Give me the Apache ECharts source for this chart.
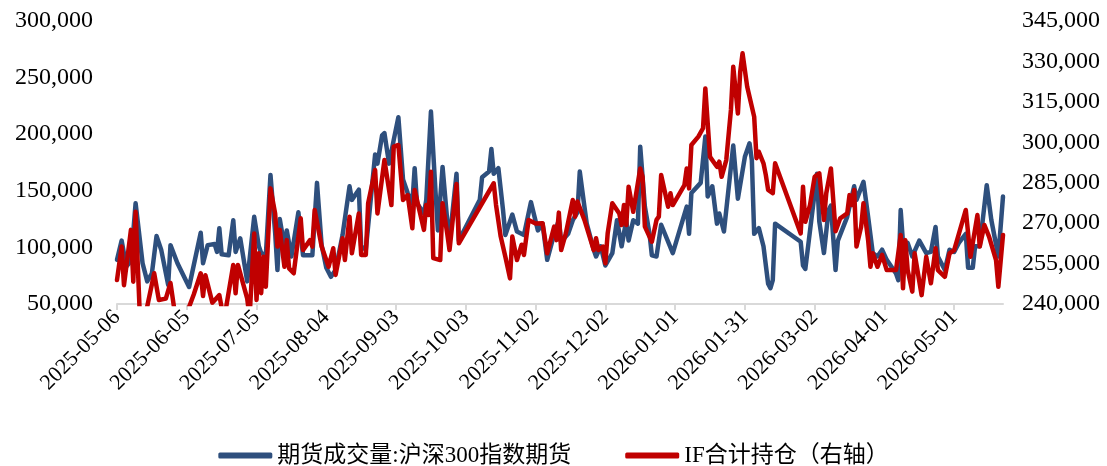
<!DOCTYPE html>
<html><head><meta charset="utf-8">
<script src="https://cdn.jsdelivr.net/npm/echarts@6/dist/echarts.min.js"></script>
<style>html,body{margin:0;padding:0;background:#fff}#c{width:1107px;height:466px}</style>
</head><body><div id="c"></div>
<script>
const tickLabels = ['2025-05-06','2025-06-05','2025-07-05','2025-08-04','2025-09-03','2025-10-03','2025-11-02','2025-12-02','2026-01-01','2026-01-31','2026-03-02','2026-04-01','2026-05-01'];
const xStart = '2025-05-06';
const xEnd = '2026-05-22';

const volName = '期货成交量:沪深300指数期货';
const oiName = 'IF合计持仓（右轴）';

const volDates = [
'2025-05-06','2025-05-08','2025-05-10','2025-05-12','2025-05-14','2025-05-17','2025-05-19','2025-05-21','2025-05-23','2025-05-25','2025-05-28','2025-05-29',
'2025-06-01','2025-06-06','2025-06-11','2025-06-12','2025-06-14','2025-06-17','2025-06-18','2025-06-19','2025-06-20','2025-06-23','2025-06-25','2025-06-26','2025-06-28',
'2025-07-01','2025-07-04','2025-07-06','2025-07-07','2025-07-09','2025-07-11','2025-07-13','2025-07-14','2025-07-15','2025-07-17','2025-07-18','2025-07-20','2025-07-23','2025-07-24','2025-07-25','2025-07-29','2025-07-31',
'2025-08-02','2025-08-04','2025-08-06','2025-08-08','2025-08-11','2025-08-14','2025-08-15','2025-08-18','2025-08-19','2025-08-21','2025-08-25','2025-08-26','2025-08-28','2025-08-29','2025-08-31',
'2025-09-02','2025-09-04','2025-09-06','2025-09-08','2025-09-10','2025-09-11','2025-09-12','2025-09-15','2025-09-16','2025-09-18','2025-09-20','2025-09-21','2025-09-23','2025-09-25','2025-09-26','2025-09-29','2025-09-30',
'2025-10-09','2025-10-10','2025-10-13','2025-10-14','2025-10-15','2025-10-17','2025-10-19','2025-10-20','2025-10-23','2025-10-25','2025-10-28','2025-10-31',
'2025-11-03','2025-11-05','2025-11-07','2025-11-10','2025-11-12','2025-11-13','2025-11-16','2025-11-18','2025-11-20','2025-11-21','2025-11-23','2025-11-24','2025-11-27','2025-11-28','2025-11-30',
'2025-12-02','2025-12-05','2025-12-07','2025-12-09','2025-12-11','2025-12-12','2025-12-14','2025-12-16','2025-12-17','2025-12-19','2025-12-21','2025-12-22','2025-12-24','2025-12-26','2025-12-31',
'2026-01-06','2026-01-07','2026-01-08','2026-01-12','2026-01-14','2026-01-15','2026-01-17','2026-01-19','2026-01-20','2026-01-22','2026-01-26','2026-01-28','2026-01-31',
'2026-02-02','2026-02-03','2026-02-04','2026-02-06','2026-02-08','2026-02-10','2026-02-11','2026-02-12','2026-02-13','2026-02-24','2026-02-25','2026-02-26',
'2026-03-03','2026-03-04','2026-03-06','2026-03-08','2026-03-09','2026-03-11','2026-03-12','2026-03-16','2026-03-19','2026-03-20','2026-03-23','2026-03-25','2026-03-27','2026-03-29','2026-03-31',
'2026-04-02','2026-04-06','2026-04-07','2026-04-08','2026-04-09','2026-04-11','2026-04-13','2026-04-16','2026-04-19','2026-04-21','2026-04-23','2026-04-24','2026-04-27','2026-04-29',
'2026-05-01','2026-05-03','2026-05-06','2026-05-07','2026-05-09','2026-05-10','2026-05-12','2026-05-15','2026-05-17','2026-05-20','2026-05-22'
];
const volValues = [
89000,106000,83000,88000,139000,86000,70000,77000,110000,98000,67000,102000,
86000,65000,113000,86000,102000,103000,96000,117000,94000,93000,124000,96000,108000,
70000,127000,101000,95000,93000,164000,113000,80000,125000,101000,115000,92000,131000,112000,93000,93000,157000,
102000,82000,74000,80000,111000,154000,142000,151000,101000,98000,182000,174000,199000,201000,174000,
195000,215000,160000,148000,139000,170000,139000,130000,142000,220000,148000,115000,171000,124000,106000,165000,106000,
142000,162000,167000,187000,165000,170000,133000,111000,129000,114000,111000,140000,
115000,121000,89000,112000,124000,105000,112000,124000,131000,167000,136000,121000,98000,92000,101000,
84000,95000,124000,101000,124000,106000,124000,121000,189000,136000,112000,93000,92000,120000,95000,
136000,112000,148000,157000,198000,145000,154000,121000,130000,114000,190000,143000,180000,
192000,177000,112000,117000,101000,68000,64000,71000,121000,105000,84000,81000,
165000,123000,95000,133000,137000,80000,106000,127000,154000,142000,158000,127000,95000,92000,98000,
89000,77000,71000,133000,104000,104000,92000,106000,95000,96000,118000,92000,80000,98000,
96000,104000,112000,82000,82000,101000,101000,155000,124000,92000,145000
];

const oiDates = [
'2025-05-06','2025-05-08','2025-05-09','2025-05-12','2025-05-13','2025-05-14','2025-05-16','2025-05-18','2025-05-22','2025-05-24','2025-05-27','2025-05-29','2025-05-31',
'2025-06-03','2025-06-08','2025-06-11','2025-06-12','2025-06-13','2025-06-16','2025-06-19','2025-06-21','2025-06-25','2025-06-26','2025-06-27',
'2025-07-01','2025-07-02','2025-07-04','2025-07-05','2025-07-06','2025-07-07','2025-07-08','2025-07-09','2025-07-11','2025-07-13','2025-07-14','2025-07-15','2025-07-17','2025-07-18','2025-07-19','2025-07-21','2025-07-24','2025-07-25','2025-07-28','2025-07-29','2025-07-30',
'2025-08-02','2025-08-05','2025-08-07','2025-08-08','2025-08-11','2025-08-12','2025-08-14','2025-08-15','2025-08-18','2025-08-19','2025-08-21','2025-08-22','2025-08-25','2025-08-26','2025-08-29',
'2025-09-01','2025-09-02','2025-09-04','2025-09-06','2025-09-08','2025-09-10','2025-09-11','2025-09-15','2025-09-16','2025-09-17','2025-09-18','2025-09-19','2025-09-22','2025-09-23','2025-09-25','2025-09-26','2025-09-29','2025-09-30',
'2025-10-15','2025-10-16','2025-10-18','2025-10-20','2025-10-22','2025-10-23','2025-10-25','2025-10-27','2025-10-28','2025-10-30',
'2025-11-02','2025-11-05','2025-11-07','2025-11-10','2025-11-11','2025-11-12','2025-11-13','2025-11-15','2025-11-18','2025-11-19','2025-11-20','2025-11-23','2025-11-27','2025-11-28','2025-11-29',
'2025-12-01','2025-12-02','2025-12-03','2025-12-05','2025-12-08','2025-12-09','2025-12-10','2025-12-11','2025-12-12','2025-12-14','2025-12-17','2025-12-18','2025-12-19','2025-12-22','2025-12-24','2025-12-25','2025-12-26','2025-12-29','2025-12-30','2025-12-31',
'2026-01-05','2026-01-06','2026-01-07','2026-01-08','2026-01-11','2026-01-13','2026-01-14','2026-01-16','2026-01-19','2026-01-20','2026-01-21','2026-01-23','2026-01-25','2026-01-26','2026-01-28','2026-01-29','2026-01-30',
'2026-02-01','2026-02-03','2026-02-04','2026-02-05','2026-02-06','2026-02-08','2026-02-09','2026-02-10','2026-02-12','2026-02-13','2026-02-24','2026-02-25','2026-02-26','2026-02-28',
'2026-03-02','2026-03-04','2026-03-06','2026-03-07','2026-03-09','2026-03-11','2026-03-13','2026-03-16','2026-03-17','2026-03-18','2026-03-19','2026-03-20','2026-03-22','2026-03-23','2026-03-25','2026-03-26','2026-03-27','2026-03-29','2026-03-31',
'2026-04-02','2026-04-06','2026-04-08','2026-04-09','2026-04-10','2026-04-11','2026-04-13','2026-04-14','2026-04-17','2026-04-19','2026-04-21','2026-04-23','2026-04-24','2026-04-27','2026-04-29',
'2026-05-01','2026-05-06','2026-05-08','2026-05-11','2026-05-12','2026-05-14','2026-05-16','2026-05-19','2026-05-20','2026-05-22'
];
const oiValues = [
248900,261300,247000,267500,248300,274200,232000,235000,251400,241500,242000,247800,236000,
232000,243500,251400,243000,250700,240500,243300,234000,254500,244000,254500,
242000,235000,266200,241500,258800,244000,257500,246400,282900,273600,261300,267500,253800,263700,253200,251400,271800,260000,263700,261300,274900,
261300,253800,260700,250800,264400,256300,272400,258800,273600,258200,258200,277400,289700,273600,293400,
276700,298400,299000,278600,280400,268100,282300,267500,276700,273000,289100,257000,256300,277400,266200,260000,284500,262500,
284800,276700,265000,257500,249500,265000,256300,262000,258200,271200,
269900,270000,258800,268700,263700,273900,260000,266200,278600,272400,278000,271200,260000,264400,260000,
261300,255100,266200,277400,273600,269300,276700,269300,283500,274200,290300,287200,268700,263100,271200,272400,287900,276100,281100,276700,
284100,290300,282900,299000,302100,305200,320000,294600,290900,292800,287200,293400,312000,328000,310700,326200,333000,
320600,313200,309500,294100,296500,292200,287900,282300,281100,292200,266200,283500,270500,276700,
287200,288500,271200,281100,290300,267000,271800,273600,280400,276700,282300,261300,268700,277400,263700,253800,258800,253800,258200,
252600,252600,265600,245800,263700,252600,244600,258800,243300,257500,247700,260700,252600,250100,258800,
260000,274900,257500,273000,261300,269300,265000,256300,246400,265600
];

function toTs(s) { const p = s.split('-').map(Number); return new Date(p[0], p[1] - 1, p[2]).getTime(); }
function pad(n) { return (n < 10 ? '0' : '') + n; }
function fmtDate(v) { const d = new Date(v); return d.getFullYear() + '-' + pad(d.getMonth() + 1) + '-' + pad(d.getDate()); }
function fmtNum(v) { return String(Math.round(v)).replace(/\B(?=(\d{3})+(?!\d))/g, ','); }

const tickTs = tickLabels.map(toTs);
const volData = volDates.map((d, i) => [toTs(d), volValues[i]]);
const oiData = oiDates.map((d, i) => [toTs(d), oiValues[i]]);

const FONT = "'Liberation Serif', 'Noto Sans CJK SC', serif";
const chart = echarts.init(document.getElementById('c'), null, { renderer: 'canvas' });
chart.setOption({
  animation: false,
  backgroundColor: '#ffffff',
  grid: { left: 117, right: 104, top: 21, bottom: 162, containLabel: false, outerBoundsMode: 'none' },
  legend: {
    left: 'center', top: 439, itemWidth: 54, itemHeight: 6, itemGap: 54, icon: 'roundRect',
    textStyle: { fontSize: 23, fontFamily: FONT, color: '#000' },
    data: [volName, oiName]
  },
  xAxis: {
    type: 'value', min: toTs(xStart), max: toTs(xEnd),
    axisLine: { show: true, onZero: false, lineStyle: { color: '#D9D9D9', width: 2 } },
    axisTick: { show: true, customValues: tickTs, length: 6, lineStyle: { color: '#D9D9D9', width: 2 } },
    axisLabel: { customValues: tickTs, rotate: 45, formatter: fmtDate, fontSize: 22, fontFamily: FONT, color: '#000', margin: 10 },
    splitLine: { show: false }
  },
  yAxis: [
    {
      type: 'value', min: 50000, max: 300000, interval: 50000, position: 'left',
      axisLine: { show: false }, axisTick: { show: false }, splitLine: { show: false },
      axisLabel: { formatter: fmtNum, fontSize: 24, fontFamily: FONT, color: '#000', margin: 24 }
    },
    {
      type: 'value', min: 240000, max: 345000, interval: 15000, position: 'right',
      axisLine: { show: false }, axisTick: { show: false }, splitLine: { show: false },
      axisLabel: { formatter: fmtNum, fontSize: 24, fontFamily: FONT, color: '#000', margin: 19 }
    }
  ],
  series: [
    {
      name: volName, type: 'line', yAxisIndex: 0, data: volData, showSymbol: false, symbol: 'none', clip: true,
      lineStyle: { color: '#2E4F7D', width: 4.5, join: 'round', cap: 'round' }, itemStyle: { color: '#2E4F7D' }
    },
    {
      name: oiName, type: 'line', yAxisIndex: 1, data: oiData, showSymbol: false, symbol: 'none', clip: true,
      lineStyle: { color: '#C00000', width: 4.5, join: 'round', cap: 'round' }, itemStyle: { color: '#C00000' }
    }
  ]
});
</script>
</body></html>
